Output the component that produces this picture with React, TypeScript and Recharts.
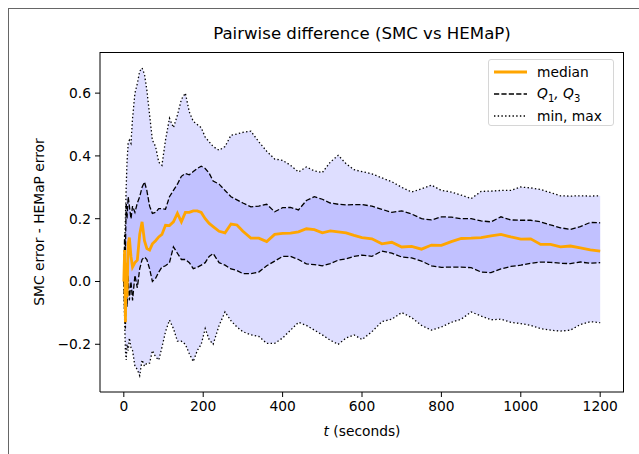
import {
  ComposedChart,
  Area,
  Line,
  XAxis,
  YAxis,
  Legend,
} from "recharts";

// time stamps (seconds)
const T = [
  0, 2, 4, 6, 8,
  11, 14, 18, 22, 28,
  34, 40, 46, 52, 58,
  65, 72, 80, 88, 96,
  105, 115, 125, 135, 145,
  155, 165, 175, 185, 195,
  205, 215, 225, 240, 255,
  270, 285, 300, 320, 340,
  360, 380, 400, 420, 440,
  460, 480, 500, 520, 540,
  560, 580, 600, 625, 650,
  675, 700, 725, 750, 775,
  800, 825, 850, 875, 900,
  925, 950, 975, 1000, 1025,
  1050, 1075, 1100, 1125, 1150,
  1175, 1200,
];

const MAX = [
  0, 0.1, 0.2, 0.3, 0.38,
  0.44, 0.45, 0.44, 0.52, 0.6,
  0.63, 0.67, 0.68, 0.66, 0.61,
  0.53, 0.45, 0.43, 0.38, 0.37,
  0.45, 0.52, 0.49, 0.53, 0.58,
  0.6, 0.54, 0.51, 0.5, 0.49,
  0.46, 0.445, 0.43, 0.418, 0.43,
  0.466, 0.47, 0.475, 0.479, 0.445,
  0.415, 0.39, 0.386, 0.37, 0.349,
  0.365, 0.352, 0.347, 0.38, 0.402,
  0.375, 0.356, 0.35, 0.343, 0.33,
  0.318, 0.3, 0.285, 0.295, 0.307,
  0.29, 0.285, 0.275, 0.264, 0.287,
  0.288, 0.29, 0.29, 0.301, 0.298,
  0.293, 0.283, 0.273, 0.272, 0.273,
  0.272, 0.273,
];

const MIN = [
  0, -0.12, -0.22, -0.25, -0.2,
  -0.22, -0.18, -0.21, -0.22, -0.27,
  -0.28, -0.3, -0.25, -0.27, -0.26,
  -0.26, -0.22, -0.24, -0.25, -0.21,
  -0.16, -0.123, -0.15, -0.19, -0.19,
  -0.2, -0.23, -0.255, -0.22, -0.2,
  -0.15, -0.185, -0.2, -0.14, -0.097,
  -0.125, -0.145, -0.16, -0.17, -0.175,
  -0.197, -0.197, -0.18, -0.155, -0.13,
  -0.14, -0.155, -0.17, -0.187, -0.2,
  -0.18, -0.17, -0.185, -0.16, -0.128,
  -0.12, -0.099, -0.115, -0.14, -0.155,
  -0.145, -0.13, -0.12, -0.097, -0.11,
  -0.122, -0.12, -0.13, -0.134, -0.14,
  -0.15, -0.155, -0.158, -0.155, -0.137,
  -0.128, -0.131,
];

const Q3 = [
  0, 0.15, 0.1, 0.25, 0.2,
  0.27, 0.24, 0.2, 0.24, 0.22,
  0.25, 0.27, 0.3, 0.317, 0.29,
  0.24, 0.217, 0.22, 0.232, 0.232,
  0.23, 0.27, 0.29, 0.31, 0.335,
  0.344, 0.34, 0.35, 0.36, 0.367,
  0.36, 0.345, 0.32, 0.31, 0.29,
  0.27, 0.26, 0.25, 0.238, 0.24,
  0.246, 0.222, 0.235, 0.236, 0.228,
  0.258, 0.27, 0.262, 0.25, 0.246,
  0.244, 0.245, 0.245, 0.24, 0.23,
  0.22, 0.225, 0.215, 0.2, 0.196,
  0.206, 0.205, 0.2, 0.2, 0.193,
  0.19, 0.206, 0.196, 0.195, 0.195,
  0.19, 0.18, 0.171, 0.166, 0.175,
  0.188, 0.187,
];

const Q1 = [
  0, -0.1, -0.15, 0.03, -0.08,
  0.02, -0.06, 0, -0.06, 0.02,
  -0.02, 0.04, 0.07, 0.078, 0.07,
  0.04, 0, 0.01, 0.03, 0.046,
  0.05, 0.06, 0.11, 0.09, 0.07,
  0.07, 0.06, 0.041, 0.045, 0.052,
  0.06, 0.08, 0.089, 0.06, 0.052,
  0.04, 0.035, 0.025, 0.025, 0.03,
  0.05, 0.065, 0.08, 0.08, 0.07,
  0.056, 0.054, 0.05, 0.057, 0.068,
  0.072, 0.08, 0.084, 0.08, 0.097,
  0.09, 0.078, 0.075, 0.065, 0.05,
  0.045, 0.046, 0.046, 0.044, 0.03,
  0.028, 0.04, 0.048, 0.052, 0.058,
  0.062, 0.061, 0.058, 0.057, 0.062,
  0.058, 0.06,
];

const MEDIAN = [
  0, 0.1, -0.13, 0.06, -0.05,
  0.12, 0.14, 0.08, 0.046, 0.06,
  0.068, 0.15, 0.19, 0.13, 0.105,
  0.1, 0.12, 0.13, 0.142, 0.15,
  0.179, 0.178, 0.19, 0.217, 0.19,
  0.22, 0.22, 0.225, 0.225, 0.22,
  0.2, 0.185, 0.175, 0.16, 0.155,
  0.183, 0.18, 0.16, 0.138, 0.138,
  0.127, 0.15, 0.153, 0.154, 0.158,
  0.168, 0.165, 0.155, 0.161, 0.158,
  0.155, 0.147, 0.14, 0.136, 0.12,
  0.125, 0.11, 0.112, 0.103, 0.116,
  0.115, 0.127, 0.137, 0.138, 0.14,
  0.145, 0.15, 0.142, 0.135, 0.136,
  0.118, 0.118, 0.11, 0.113, 0.107,
  0.101, 0.097,
];

const X_TICKS = [0, 200, 400, 600, 800, 1000, 1200];
const Y_TICKS = [-0.2, 0, 0.2, 0.4, 0.6];

const FONT = "'DejaVu Sans', sans-serif";

const data = T.map((t, i) => ({
  t,
  median: MEDIAN[i],
  q1: Q1[i],
  q3: Q3[i],
  min: MIN[i],
  max: MAX[i],
  outer: [MIN[i], MAX[i]],
  inner: [Q1[i], Q3[i]],
}));

const fmtY = (v: number) =>
  Math.abs(v) < 1e-9 ? "0.0" : (v < 0 ? "\u2212" : "") + Math.abs(v).toFixed(1);

function LegendBox() {
  const row = { display: "flex", alignItems: "center", height: 22 } as const;
  return (
    <div
      style={{
        width: 126,
        height: 67,
        border: "1px solid #d6d6d6",
        borderRadius: 3,
        background: "rgba(255,255,255,0.85)",
        fontFamily: FONT,
        fontSize: 13.8,
        color: "#000",
        padding: "1px 0 0 0",
        boxSizing: "border-box",
      }}
    >
      <div style={row}>
        <svg width={48} height={10}>
          <line x1={5} y1={5} x2={38} y2={5} stroke="#ffa500" strokeWidth={2.8} />
        </svg>
        <span>median</span>
      </div>
      <div style={row}>
        <svg width={48} height={10}>
          <line x1={5} y1={5} x2={38} y2={5} stroke="#000" strokeWidth={1.3} strokeDasharray="5.2 2.2" />
        </svg>
        <span style={{ fontStyle: "italic" }}>
          Q<sub style={{ fontSize: 10, fontStyle: "normal" }}>1</sub>, Q
          <sub style={{ fontSize: 10, fontStyle: "normal" }}>3</sub>
        </span>
      </div>
      <div style={row}>
        <svg width={48} height={10}>
          <line x1={5} y1={5} x2={38} y2={5} stroke="#000" strokeWidth={1.3} strokeDasharray="1.4 2.3" />
        </svg>
        <span>min, max</span>
      </div>
    </div>
  );
}

export default function App() {
  const tickStyle = { fontSize: 13.8, fontFamily: FONT, fill: "#000" };
  return (
    <div
      style={{
        position: "absolute",
        left: 0,
        top: 0,
        width: 639,
        height: 454,
        background: "#fff",
        overflow: "hidden",
      }}
    >
      {/* figure frame */}
      <div
        style={{
          position: "absolute",
          left: 8,
          top: 8,
          width: 640,
          height: 460,
          borderTop: "1.5px solid #666",
          borderLeft: "1.5px solid #666",
        }}
      />
      <div
        style={{
          position: "absolute",
          left: 100,
          width: 524,
          top: 24,
          textAlign: "center",
          fontFamily: FONT,
          fontSize: 16.6,
          color: "#000",
        }}
      >
        Pairwise difference (SMC vs HEMaP)
      </div>

      <ComposedChart
        width={639}
        height={454}
        data={data}
        margin={{ top: 52, right: 15, bottom: 32, left: 40 }}
      >
        <XAxis
          type="number"
          dataKey="t"
          domain={[-60, 1260]}
          ticks={X_TICKS}
          allowDataOverflow
          height={30}
          tickSize={5}
          tickMargin={4}
          tick={tickStyle}
          stroke="#000"
          tickLine={{ stroke: "#000" }}
        />
        <YAxis
          type="number"
          domain={[-0.352, 0.731]}
          ticks={Y_TICKS}
          allowDataOverflow
          width={60}
          tickSize={5}
          tickMargin={4}
          tick={tickStyle}
          tickFormatter={fmtY}
          stroke="#000"
          tickLine={{ stroke: "#000" }}
        />
        <Area
          dataKey="outer"
          type="linear"
          fill="#0000ff"
          fillOpacity={0.13}
          stroke="none"
          isAnimationActive={false}
          activeDot={false}
        />
        <Area
          dataKey="inner"
          type="linear"
          fill="#0000ff"
          fillOpacity={0.13}
          stroke="none"
          isAnimationActive={false}
          activeDot={false}
        />
        <Line dataKey="max" type="linear" stroke="#000" strokeWidth={1.3} strokeDasharray="1.4 2.3" dot={false} activeDot={false} isAnimationActive={false} />
        <Line dataKey="min" type="linear" stroke="#000" strokeWidth={1.3} strokeDasharray="1.4 2.3" dot={false} activeDot={false} isAnimationActive={false} />
        <Line dataKey="q3" type="linear" stroke="#000" strokeWidth={1.3} strokeDasharray="5.2 2.2" dot={false} activeDot={false} isAnimationActive={false} />
        <Line dataKey="q1" type="linear" stroke="#000" strokeWidth={1.3} strokeDasharray="5.2 2.2" dot={false} activeDot={false} isAnimationActive={false} />
        <Line dataKey="median" type="linear" stroke="#ffa500" strokeWidth={2.8} dot={false} activeDot={false} isAnimationActive={false} />
        <Legend
          layout="vertical"
          align="center"
          verticalAlign="middle"
          content={() => <LegendBox />}
          wrapperStyle={{ position: "absolute", top: 59, left: 488, width: 126, height: 67 }}
        />
      </ComposedChart>

      {/* axes box (top and right spines) */}
      <div
        style={{
          position: "absolute",
          left: 100,
          top: 52,
          width: 524,
          height: 340,
          borderTop: "1px solid #000",
          borderRight: "1px solid #000",
          boxSizing: "border-box",
          pointerEvents: "none",
        }}
      />

      <div
        style={{
          position: "absolute",
          left: 100,
          width: 524,
          top: 423,
          textAlign: "center",
          fontFamily: FONT,
          fontSize: 13.8,
          color: "#000",
        }}
      >
        <i>t</i> (seconds)
      </div>
      <div
        style={{
          position: "absolute",
          left: 39,
          top: 222,
          transform: "translate(-50%, -50%) rotate(-90deg)",
          whiteSpace: "nowrap",
          fontFamily: FONT,
          fontSize: 13.8,
          color: "#000",
        }}
      >
        SMC error - HEMaP error
      </div>
    </div>
  );
}
